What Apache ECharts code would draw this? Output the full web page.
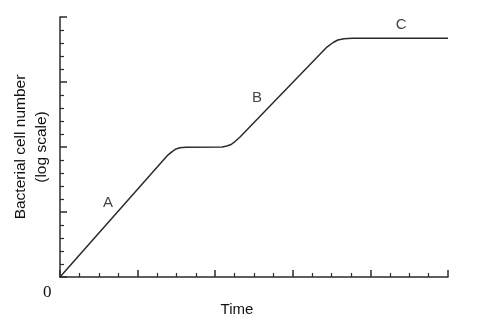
<!DOCTYPE html>
<html>
<head>
<meta charset="utf-8">
<script src="https://cdn.jsdelivr.net/npm/echarts@6/dist/echarts.min.js"></script>
<style>
  html, body { margin: 0; padding: 0; background: #fff; }
  #chart { width: 477px; height: 322px; }
</style>
</head>
<body>
<div id="chart"></div>
<script>
// Growth curve: time (arbitrary units) vs. log cell number (arbitrary units)
const timeValues = [0, 27.8, 28.9, 29.9, 30.9, 32.5, 41.8, 43.0, 44.1, 45.1, 46.4, 68.8, 70.4, 71.6, 73.2, 75.3, 100];
const logCellValues = [0, 9.38, 9.65, 9.85, 9.94, 9.98, 10.0, 10.08, 10.19, 10.42, 10.77, 17.69, 18.04, 18.23, 18.33, 18.36, 18.36];

// Phase labels and where they sit on the chart
const phaseNames = ['A', 'B', 'C'];
const phaseTime = [12.4, 50.8, 87.9];
const phaseLog = [5.7, 13.8, 19.4];

const xAxisTitle = 'Time';
const yAxisTitle = 'Bacterial cell number\n(log scale)';
const originLabel = '0';

const ink = '#2b2b2b';
const chart = echarts.init(document.getElementById('chart'), null, { renderer: 'canvas' });

chart.setOption({
  animation: false,
  backgroundColor: '#ffffff',
  grid: { left: 60, top: 17, right: 29, bottom: 45, outerBoundsMode: 'none', containLabel: false },
  xAxis: {
    type: 'value', min: 0, max: 100, interval: 20,
    name: xAxisTitle, nameLocation: 'middle', nameGap: 25,
    nameTextStyle: { fontFamily: 'Liberation Sans', fontSize: 15, color: '#111', padding: [0, 34, 0, 0] },
    axisLine: { show: true, onZero: false, lineStyle: { color: ink, width: 1.5 } },
    axisTick: { show: true, inside: true, length: 7, lineStyle: { color: ink, width: 1.5 } },
    minorTick: { show: true, splitNumber: 4, length: 4, lineStyle: { color: ink, width: 1.2 } },
    axisLabel: { show: false },
    splitLine: { show: false }
  },
  yAxis: {
    type: 'value', min: 0, max: 20, interval: 5,
    name: yAxisTitle, nameLocation: 'middle', nameGap: 8, nameRotate: 90,
    nameTextStyle: { fontFamily: 'Liberation Sans', fontSize: 15.5, color: '#111', lineHeight: 21 },
    axisLine: { show: true, onZero: false, lineStyle: { color: ink, width: 1.5 } },
    axisTick: { show: true, inside: true, length: 7, lineStyle: { color: ink, width: 1.5 } },
    minorTick: { show: true, splitNumber: 5, length: 4, lineStyle: { color: ink, width: 1.2 } },
    axisLabel: { show: false },
    splitLine: { show: false }
  },
  series: [
    {
      type: 'line',
      data: timeValues.map((t, i) => [t, logCellValues[i]]),
      smooth: false,
      showSymbol: false,
      lineStyle: { color: ink, width: 1.5 }
    },
    {
      type: 'scatter',
      data: phaseNames.map((n, i) => [phaseTime[i], phaseLog[i], n]),
      symbolSize: 0,
      label: {
        show: true, position: 'inside',
        formatter: p => p.data[2],
        fontFamily: 'Liberation Sans', fontSize: 15, color: '#111'
      }
    }
  ],
  graphic: [
    {
      type: 'text', left: 43, top: 284,
      style: { text: originLabel, font: '17px "Liberation Serif"', fill: '#111' }
    }
  ]
});
</script>
</body>
</html>
